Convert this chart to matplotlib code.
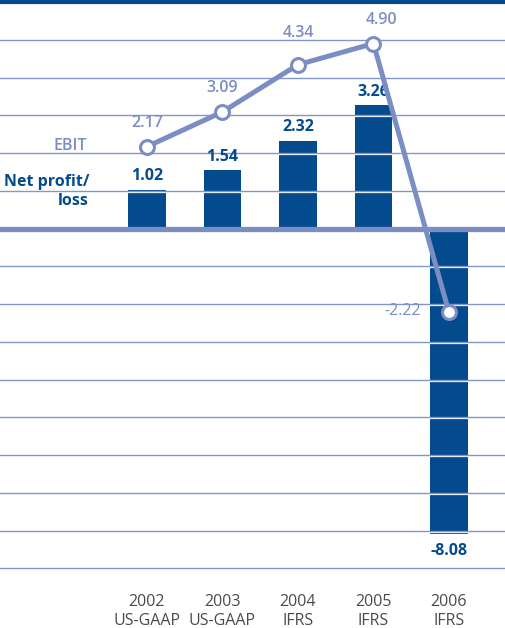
import matplotlib
matplotlib.use("Agg")
import matplotlib.pyplot as plt
import numpy as np

# data
years = ['2002', '2003', '2004', '2005', '2006']
standards = ['US-GAAP', 'US-GAAP', 'IFRS', 'IFRS', 'IFRS']
net_profit = [1.02, 1.54, 2.32, 3.26, -8.08]
ebit = [2.17, 3.09, 4.34, 4.90, -2.22]
grid_vals = [5, 4, 3, 2, 1, -1, -2, -3, -4, -5, -6, -7, -8, -9]

bar_col = '#044b8e'
line_col = '#7b8ec3'
grid_col = '#8197c9'
text_grey = '#4a4a4a'

plt.rcParams['font.family'] = ['Open Sans', 'DejaVu Sans']

fig = plt.figure(figsize=(5.05, 6.28), dpi=100)
ax = fig.add_axes([0, 0, 1, 1])
ax.set_xlim(-1.947, 4.742)
ax.set_ylim(-10.58, 6.053)
ax.axis('off')

x = np.arange(len(years))
ax.bar(x, net_profit, width=0.5, color=bar_col, zorder=2)

# gridlines (blue with thin white line under)
for g in grid_vals:
    ax.axhline(g - 0.03, color='white', lw=0.9, zorder=3)
    ax.axhline(g, color=grid_col, lw=1.0, zorder=3)
ax.axhline(0, color=line_col, lw=3.8, zorder=4)
ax.axhline(6, color=bar_col, lw=3.0, zorder=4)

# EBIT line
ax.plot(x, ebit, color=line_col, lw=3.6, marker='o', markersize=10,
        markerfacecolor='white', markeredgecolor=line_col, markeredgewidth=2.2,
        zorder=5, solid_capstyle='butt')

# EBIT value labels
ebit_dx = [0, 0, 0, 6, -20]
ebit_dy = [17, 17, 23, 17, 1]
for i, v in enumerate(ebit):
    if v >= 0:
        ax.annotate(f'{v:.2f}', (x[i], v), xytext=(ebit_dx[i], ebit_dy[i]),
                    textcoords='offset points', ha='center', va='center',
                    fontsize=11.5, color=line_col, fontweight='semibold')
    else:
        ax.annotate(f'{v:.2f}', (x[i], v), xytext=(ebit_dx[i], ebit_dy[i]),
                    textcoords='offset points', ha='right', va='center',
                    fontsize=11.5, color=line_col)

# net profit labels
for i, v in enumerate(net_profit):
    if v >= 0:
        ax.annotate(f'{v:.2f}', (x[i], v), xytext=(0, 10),
                    textcoords='offset points', ha='center', va='center',
                    fontsize=11.5, color=bar_col, fontweight='bold')
    else:
        ax.annotate(f'{v:.2f}', (x[i], v), xytext=(0, -12.5),
                    textcoords='offset points', ha='center', va='center',
                    fontsize=11.5, color=bar_col, fontweight='bold')

# series names
ax.text(-0.795, 2.19, 'EBIT', ha='right', va='center', fontsize=11.5,
        color=line_col, fontweight='semibold')
ax.text(-0.768, 0.975, 'Net profit/\nloss', ha='right', va='center',
        multialignment='right', fontsize=11.5, color=bar_col,
        fontweight='bold', linespacing=1.25)

# x labels
for i in range(len(years)):
    ax.text(x[i], -10.13, years[i] + '\n' + standards[i], ha='center',
            va='center', fontsize=11.5, color=text_grey, linespacing=1.25)

fig.savefig('out.png', dpi=100)
